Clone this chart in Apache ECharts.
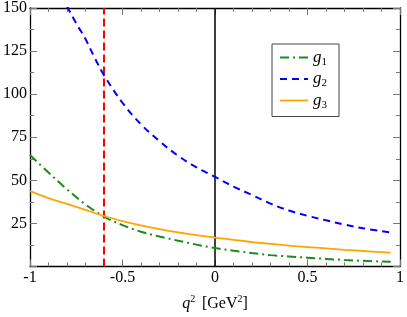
<!DOCTYPE html>
<html><head><meta charset="utf-8">
<script src="https://cdn.jsdelivr.net/npm/echarts@6/dist/echarts.min.js"></script>
<style>html,body{margin:0;padding:0;background:#fff}#c{width:407px;height:317px}</style>
</head><body><div id="c"></div>
<script>
const xG1 = [-1,-0.9,-0.8,-0.7,-0.6,-0.5,-0.4,-0.3,-0.2,-0.1,0,0.1,0.2,0.3,0.4,0.5,0.6,0.7,0.8,0.95];
const g1 = [64.7,54.5,44.8,36.0,29.0,24.0,20.2,17.4,15.0,12.7,10.7,9.2,7.8,6.6,5.8,5.1,4.4,3.8,3.3,2.7];
const g3 = [43.7,39.7,36.3,32.8,29.3,26.4,23.9,21.7,19.8,18.2,16.8,15.4,14.2,13.1,12.1,11.3,10.5,9.7,9.0,8.0];
const xG2 = [-0.8,-0.75,-0.7,-0.65,-0.6,-0.5,-0.4,-0.3,-0.2,-0.1,0,0.1,0.2,0.3,0.4,0.5,0.6,0.7,0.8,0.95];
const g2 = [151,141,132,121,111,95,82.5,72.7,64.3,57.5,52,46.4,41.5,36.5,32.5,29.4,26.8,24.3,22.2,19.8];
const redLineX = [-0.6,-0.6];
const blackLineX = [0,0];
const vLineY = [0,150];
const seriesNames = ['g1','g2','g3'];

const pairs = (xs, ys) => xs.map((x,i)=>[x, ys[i]]);
const serif = 'Liberation Serif';
const styles = {
  g1:{color:'#1a8c1a', width:2, type:[9,4,2,4]},
  g2:{color:'#0000ff', width:2, type:[7,5]},
  g3:{color:'#ffa500', width:1.8, type:'solid'}
};
const axisCommon = {
  type:'value', min:-1, max:1, interval:0.5,
  axisLine:{onZero:false, lineStyle:{color:'#000', width:1.3}},
  axisTick:{inside:true, length:7, lineStyle:{color:'#777', width:1}},
  minorTick:{show:true, splitNumber:5, length:4, lineStyle:{color:'#777', width:1}},
  splitLine:{show:false}
};
const yCommon = {
  type:'value', min:0, max:150, interval:25,
  axisLine:{onZero:false, lineStyle:{color:'#000', width:1.3}},
  axisTick:{inside:true, length:7, lineStyle:{color:'#777', width:1}},
  minorTick:{show:true, splitNumber:2, length:4, lineStyle:{color:'#777', width:1}},
  splitLine:{show:false}
};
const chart = echarts.init(document.getElementById('c'));
chart.setOption({
  animation:false,
  backgroundColor:'#fff',
  grid:{left:28, right:4, top:6, bottom:49, containLabel:false},
  xAxis:[
    Object.assign({}, axisCommon, {position:'bottom',
      axisLabel:{color:'#000', fontFamily:serif, fontSize:16, margin:3},
      name:'{i|q}{sup|2}  {n|[GeV}{sup|2}{n|]}', nameLocation:'middle', nameGap:28,
      nameTextStyle:{rich:{
        i:{fontFamily:serif, fontStyle:'italic', fontSize:16, color:'#000'},
        n:{fontFamily:serif, fontSize:16, color:'#000'},
        sup:{fontFamily:serif, fontSize:10, color:'#000', padding:[0,0,9,0]}
      }}}),
    Object.assign({}, axisCommon, {position:'top', axisLabel:{show:false}})
  ],
  yAxis:[
    Object.assign({}, yCommon, {position:'left',
      axisLabel:{color:'#000', fontFamily:serif, fontSize:16, margin:3,
        formatter:v => v===0 ? '' : String(v)}}),
    Object.assign({}, yCommon, {position:'right', axisLabel:{show:false}})
  ],
  legend:{
    data:seriesNames.map(n => ({name:n, itemStyle:{opacity:0}, lineStyle:styles[n]})),
    orient:'vertical', left:272, top:44,
    padding:[5,12,6,7], itemGap:3, itemWidth:28, itemHeight:16,
    borderColor:'#444', borderWidth:1, backgroundColor:'#fff',
    formatter: name => '{g|g}{s|' + name.slice(1) + '}',
    textStyle:{rich:{
      g:{fontFamily:serif, fontStyle:'italic', fontSize:17, color:'#000'},
      s:{fontFamily:serif, fontSize:11, color:'#000', padding:[9,0,0,0]}
    }}
  },
  series:[
    {name:'vred', type:'line', data:pairs(redLineX, vLineY), symbol:'none', silent:true,
      lineStyle:{color:'#ff0000', width:2, type:[8,4]}, z:1},
    {name:'vblack', type:'line', data:pairs(blackLineX, vLineY), symbol:'none', silent:true,
      lineStyle:{color:'#000', width:1.5}, z:1},
    {name:'g1', type:'line', data:pairs(xG1, g1), symbol:'none', smooth:0.4, color:styles.g1.color,
      lineStyle:styles.g1, z:3},
    {name:'g2', type:'line', data:pairs(xG2, g2), symbol:'none', smooth:0.4, color:styles.g2.color,
      lineStyle:styles.g2, z:3},
    {name:'g3', type:'line', data:pairs(xG1, g3), symbol:'none', smooth:0.4, color:styles.g3.color,
      lineStyle:styles.g3, z:3}
  ]
});
</script></body></html>
